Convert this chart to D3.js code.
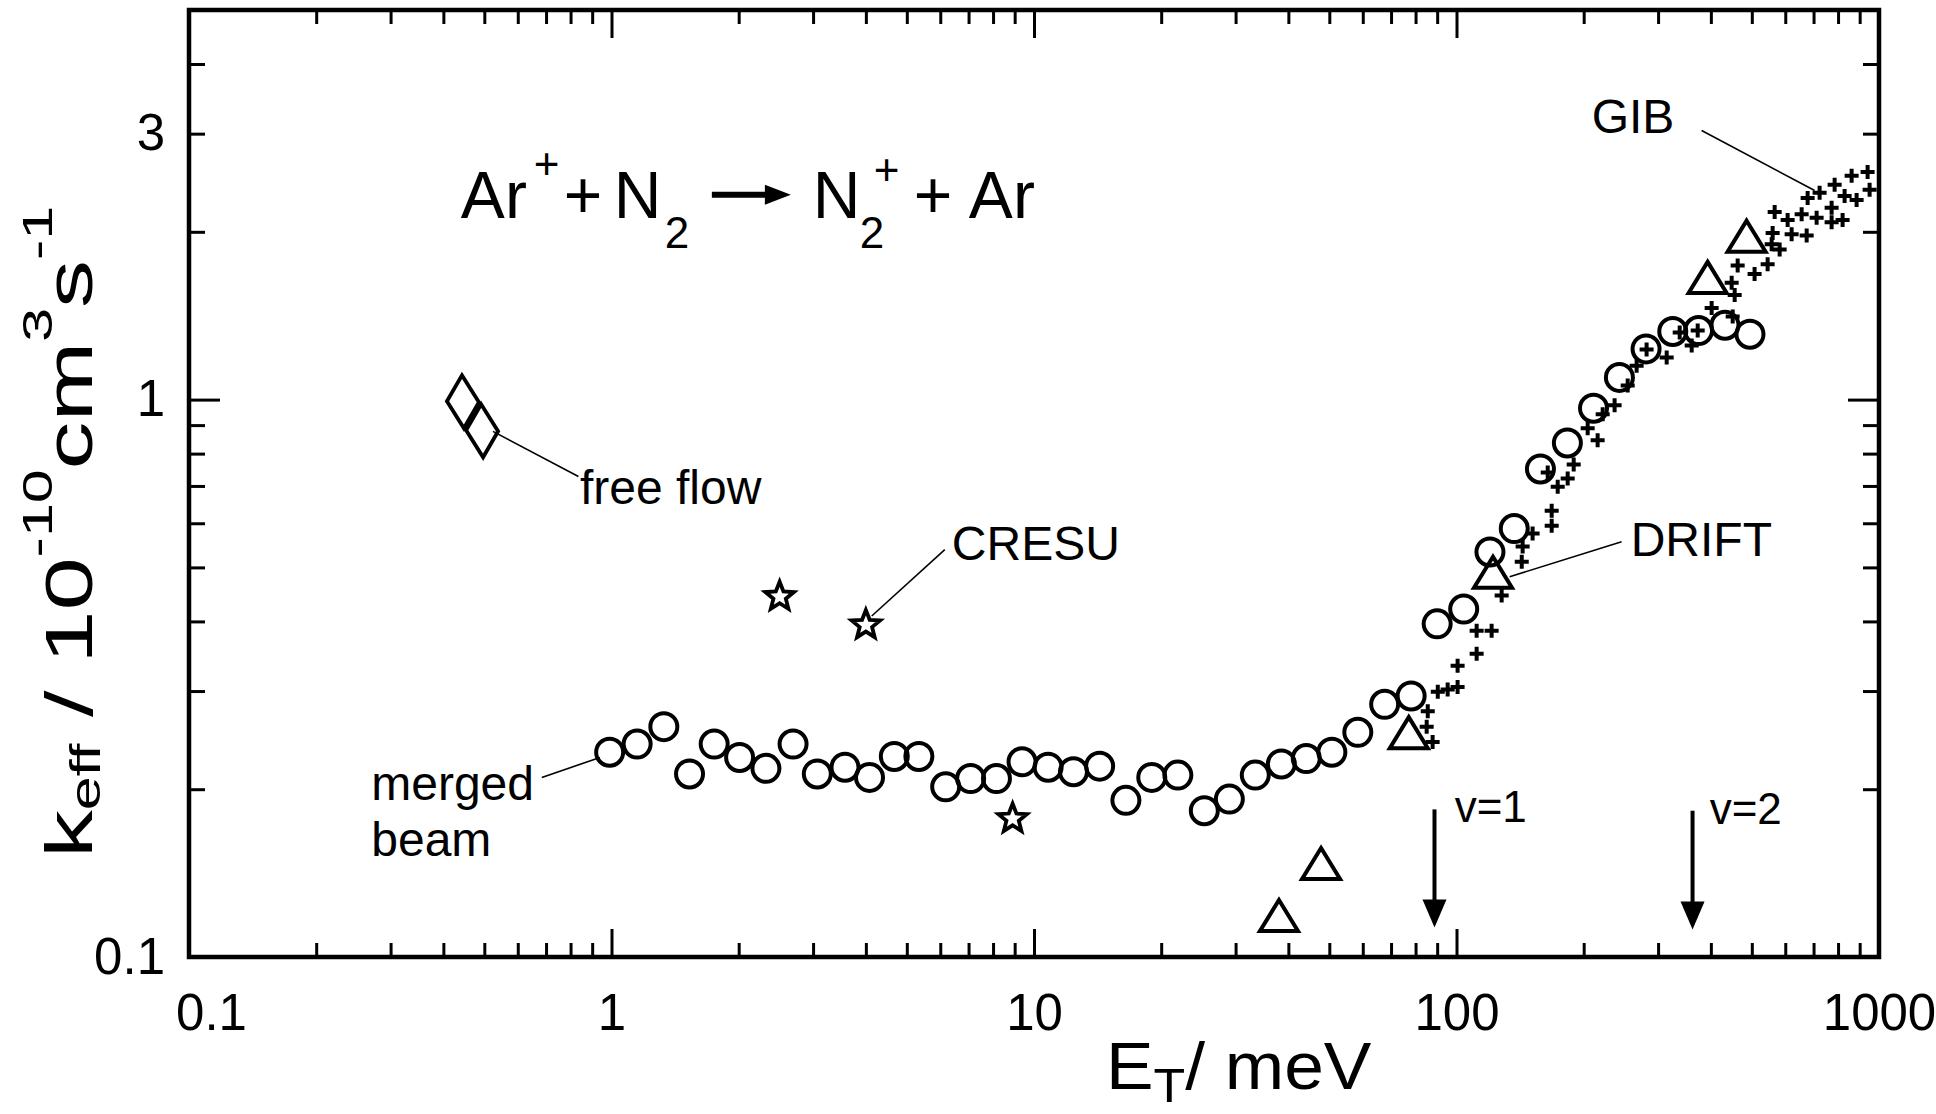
<!DOCTYPE html>
<html>
<head>
<meta charset="utf-8">
<script src="https://cdn.jsdelivr.net/npm/d3@7"></script>
<style>
  body { margin: 0; background: #fff; }
  svg text { font-family: "Liberation Sans", Arial, Helvetica, sans-serif; fill: #000; white-space: pre; }
</style>
</head>
<body>
<div id="chart"></div>
<script>
// merged beam (circles)
const mergedE = [0.99,1.15,1.33,1.53,1.75,2.01,2.32,2.69,3.07,3.57,4.08,4.67,5.34,6.18,7.08,8.15,9.37,10.8,12.4,14.3,16.5,19.0,21.9,25.3,29.0,33.4,38.5,44.1,50.7,58.4,67.6,78.1,90.0,104,120,137,158,183,211,243,281,325,374,432,495];
const mergedK = [0.233,0.241,0.259,0.213,0.241,0.228,0.218,0.241,0.213,0.219,0.210,0.229,0.229,0.202,0.209,0.209,0.224,0.219,0.215,0.220,0.191,0.210,0.212,0.183,0.192,0.212,0.222,0.227,0.233,0.253,0.284,0.294,0.396,0.421,0.533,0.587,0.751,0.836,0.965,1.096,1.233,1.325,1.33,1.36,1.31];

// drift tube (triangles)
const driftE = [38.0,47.8,77.1,122,393,486];
const driftK = [0.117,0.145,0.249,0.483,1.633,1.936];

// guided ion beam (crosses)
const gibE = [85.0,85.5,87.8,90.3,95.3,100.6,100.6,111.6,111.6,121.1,127.9,142.7,143.4,151.4,168.0,168.0,164.4,173.6,183.3,189.4,204.4,215.8,221.8,236.7,254.2,266.9,281.8,314.4,337.5,360.3,372.3,401.7,450.5,455.4,448.0,462.9,507.6,545.0,560.1,557.1,581.9,566.3,621.2,674.2,607.8,656.0,711.8,772.4,820.1,772.4,677.8,723.5,785.2,829.1,885.1,861.4,939.8,950.1];
const gibK = [0.259,0.276,0.243,0.299,0.302,0.305,0.333,0.350,0.385,0.385,0.445,0.512,0.545,0.575,0.594,0.632,0.740,0.698,0.722,0.765,0.888,0.845,0.941,0.977,1.06,1.15,1.23,1.19,1.32,1.25,1.33,1.46,1.41,1.54,1.62,1.74,1.68,1.75,1.99,1.90,1.86,2.17,1.98,1.97,2.10,2.15,2.12,2.08,2.10,2.21,2.30,2.35,2.43,2.32,2.28,2.52,2.56,2.38];

// CRESU (stars) and free flow (diamonds)
const cresuE = [2.50,4.0,8.9];
const cresuK = [0.443,0.394,0.177];
const freeE = [0.445,0.494];
const freeK = [0.993,0.881];

// ticks
const xMajor = [0.1,1,10,100,1000];
const xTickLabels = ["0.1","1","10","100","1000"];
const yMajor = [0.1,1];
const yLabelTicks = [0.1,1,3];
const yTickLabels = ["0.1","1","3"];

// annotations (placed in data units)
const annotText = ["free flow","CRESU","merged","beam","DRIFT","GIB"];
const annotE = [0.842,6.39,0.270,0.270,258.4,208.9];
const annotK = [0.651,0.516,0.191,0.152,0.525,3.004];
const leaderE1 = [0.524,4.13,0.684,133.6,380.4];
const leaderK1 = [0.877,0.409,0.210,0.481,3.04];
const leaderE2 = [0.835,6.15,0.939,245.9,704.2];
const leaderK2 = [0.728,0.538,0.228,0.556,2.372];

// vibrational thresholds
const vibText = ["v=1","v=2"];
const vibE = [88.7,362];
const vibTopK = [0.184,0.183];
const vibTipK = [0.113,0.112];
const vibLabelE = [99.0,397.3];
const vibLabelK = [0.175,0.1735];

// reaction equation anchor
const eqE = 0.44, eqK = 2.12;

const W = 1936, H = 1114;
const margin = {top: 10, right: 57, bottom: 157, left: 189};
const width = W - margin.left - margin.right;
const height = H - margin.top - margin.bottom;

const svg = d3.select("#chart").append("svg")
    .attr("width", W)
    .attr("height", H);
svg.append("rect").attr("width", W).attr("height", H).attr("fill", "#fff");

const g = svg.append("g")
    .attr("transform", `translate(${margin.left},${margin.top})`);

const x = d3.scaleLog().domain([0.1, 1000]).range([0, width]);
const y = d3.scaleLog().domain([0.1, 5]).range([height, 0]);

const isDecade = v => Math.abs(Math.log10(v) - Math.round(Math.log10(v))) < 1e-6;
const xMinor = x.ticks().filter(v => !isDecade(v));
const yMinor = y.ticks().filter(v => !isDecade(v));

// tick marks, all pointing inward
function ticks(axis, transform) {
    const a = g.append("g").attr("transform", transform).call(axis);
    a.select(".domain").remove();
    a.selectAll("line").attr("stroke", "#000").attr("stroke-width", 3);
    return a;
}
ticks(d3.axisBottom(x).tickValues(xMajor).tickSize(-28).tickFormat(""), `translate(0,${height})`);
ticks(d3.axisBottom(x).tickValues(xMinor).tickSize(-14).tickFormat(""), `translate(0,${height})`);
ticks(d3.axisTop(x).tickValues(xMajor).tickSize(-28).tickFormat(""), "translate(0,0)");
ticks(d3.axisTop(x).tickValues(xMinor).tickSize(-14).tickFormat(""), "translate(0,0)");
ticks(d3.axisLeft(y).tickValues(yMajor).tickSize(-31).tickFormat(""), "translate(0,0)");
ticks(d3.axisLeft(y).tickValues(yMinor).tickSize(-16).tickFormat(""), "translate(0,0)");
ticks(d3.axisRight(y).tickValues(yMajor).tickSize(-31).tickFormat(""), `translate(${width},0)`);
ticks(d3.axisRight(y).tickValues(yMinor).tickSize(-16).tickFormat(""), `translate(${width},0)`);

// tick labels
const xLab = g.append("g").attr("transform", `translate(0,${height})`)
    .call(d3.axisBottom(x).tickValues(xMajor).tickSize(0).tickFormat((d, i) => xTickLabels[i]));
xLab.select(".domain").remove();
xLab.selectAll("text")
    .attr("y", 73).attr("dy", null)
    .style("font-size", "51px")
    .attr("dx", (d, i) => i === 0 ? 22 : 0);

const yLab = g.append("g")
    .call(d3.axisLeft(y).tickValues(yLabelTicks).tickSize(0).tickPadding(24).tickFormat((d, i) => yTickLabels[i]));
yLab.select(".domain").remove();
yLab.selectAll("text").style("font-size", "51px");

// frame
g.append("rect")
    .attr("width", width).attr("height", height)
    .attr("fill", "none").attr("stroke", "#000").attr("stroke-width", 4.5);

// axis titles
const xt = svg.append("text").attr("transform", "translate(1106,1089) scale(1.08,1)").style("font-size", "66px");
xt.append("tspan").text("E");
xt.append("tspan").attr("dy", 13).style("font-size", "48px").text("T");
xt.append("tspan").attr("dy", -13).text("/ meV");

const yt = svg.append("text").attr("transform", "translate(92,858) rotate(-90) scale(1.45,1)").style("font-size", "66px");
yt.append("tspan").text("k");
yt.append("tspan").attr("dy", 8).style("font-size", "42px").text("eff");
yt.append("tspan").attr("dy", -8).text(" / 10");
yt.append("tspan").attr("dy", -40).style("font-size", "42px").text("-10");
yt.append("tspan").attr("dy", 40).text("cm");
yt.append("tspan").attr("dy", -40).style("font-size", "42px").text("3");
yt.append("tspan").attr("dy", 40).text("s");
yt.append("tspan").attr("dy", -40).style("font-size", "42px").text("-1");

// data markers
g.append("g").selectAll("path")
    .data(gibE.map((e, i) => [e, gibK[i]]))
    .join("path")
    .attr("transform", d => `translate(${x(d[0])},${y(d[1])})`)
    .attr("d", "M-7,0H7M0,-7V7")
    .attr("stroke", "#000").attr("stroke-width", 4).attr("fill", "none");

g.append("g").selectAll("circle")
    .data(mergedE.map((e, i) => [e, mergedK[i]]))
    .join("circle")
    .attr("cx", d => x(d[0])).attr("cy", d => y(d[1])).attr("r", 13.5)
    .attr("stroke", "#000").attr("stroke-width", 4).attr("fill", "none");

g.append("g").selectAll("path")
    .data(driftE.map((e, i) => [e, driftK[i]]))
    .join("path")
    .attr("transform", d => `translate(${x(d[0])},${y(d[1])})`)
    .attr("d", "M0,-19L19,12L-19,12Z")
    .attr("stroke", "#000").attr("stroke-width", 4).attr("fill", "none")
    .attr("stroke-linejoin", "miter");

function starPath(ro, ri) {
    const pts = d3.range(10).map(i => {
        const a = -Math.PI / 2 + i * Math.PI / 5;
        const r = i % 2 ? ri : ro;
        return [r * Math.cos(a), r * Math.sin(a)];
    });
    return "M" + pts.map(p => p.join(",")).join("L") + "Z";
}
g.append("g").selectAll("path")
    .data(cresuE.map((e, i) => [e, cresuK[i]]))
    .join("path")
    .attr("transform", d => `translate(${x(d[0])},${y(d[1])})`)
    .attr("d", starPath(15, 6.5))
    .attr("stroke", "#000").attr("stroke-width", 3.8).attr("fill", "none")
    .attr("stroke-linejoin", "miter");

g.append("g").selectAll("path")
    .data(freeE.map((e, i) => [e, freeK[i]]))
    .join("path")
    .attr("transform", d => `translate(${x(d[0])},${y(d[1])})`)
    .attr("d", "M-1,-26L16,1L1,27L-16,0Z")
    .attr("stroke", "#000").attr("stroke-width", 3.8).attr("fill", "none");

// leaders and labels
g.append("g").selectAll("line")
    .data(leaderE1.map((e, i) => i))
    .join("line")
    .attr("x1", i => x(leaderE1[i])).attr("y1", i => y(leaderK1[i]))
    .attr("x2", i => x(leaderE2[i])).attr("y2", i => y(leaderK2[i]))
    .attr("stroke", "#000").attr("stroke-width", 1.6);

g.append("g").selectAll("text")
    .data(annotText)
    .join("text")
    .attr("x", (d, i) => x(annotE[i])).attr("y", (d, i) => y(annotK[i]))
    .style("font-size", "48px")
    .text(d => d);

// vibrational threshold arrows
vibText.forEach((t, i) => {
    const ax = x(vibE[i]), top = y(vibTopK[i]), tip = y(vibTipK[i]);
    g.append("line").attr("x1", ax).attr("x2", ax).attr("y1", top).attr("y2", tip - 20)
        .attr("stroke", "#000").attr("stroke-width", 4);
    g.append("path").attr("d", `M${ax - 12},${tip - 28}L${ax + 12},${tip - 28}L${ax},${tip}Z`).attr("fill", "#000");
    g.append("text").attr("x", x(vibLabelE[i])).attr("y", y(vibLabelK[i]))
        .style("font-size", "44px").text(t);
});

// reaction equation
const eq = g.append("g").attr("transform", `translate(${x(eqE)},${y(eqK)})`);
const big = "66px", small = "44px";
[
    ["Ar", 0, 0, big], ["+", 73, -39, small], ["+", 103, 0, big], ["N", 153, 0, big],
    ["2", 204, 30, small], ["N", 352, 0, big], ["2", 399, 30, small], ["+", 413, -33, small],
    ["+", 453, 0, big], ["Ar", 508, 0, big]
].forEach(p => {
    eq.append("text").attr("x", p[1]).attr("y", p[2]).style("font-size", p[3]).text(p[0]);
});
eq.append("line").attr("x1", 251).attr("x2", 310).attr("y1", -23).attr("y2", -23)
    .attr("stroke", "#000").attr("stroke-width", 6);
eq.append("path").attr("d", "M304,-33L330,-23L304,-13Z").attr("fill", "#000");
</script>
</body>
</html>
